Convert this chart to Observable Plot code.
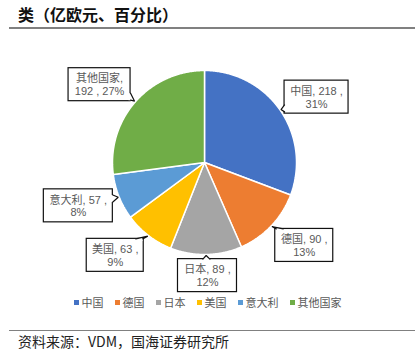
<!DOCTYPE html>
<html><head><meta charset="utf-8">
<script src="https://cdn.jsdelivr.net/npm/d3@7"></script>
<script src="https://cdn.jsdelivr.net/npm/@observablehq/plot@0.6"></script>
<style>
html,body{margin:0;padding:0;background:#fff}
body{width:415px;height:352px;position:relative;overflow:hidden;font-family:"Liberation Sans","Noto Sans CJK SC",sans-serif}
#title{position:absolute;left:9px;right:0;top:0;height:29px;box-sizing:border-box;border-bottom:2px solid #808080;padding-left:9px;padding-top:4px;font-family:"Noto Sans CJK SC",sans-serif;font-weight:700;font-size:16px;line-height:20px;color:#111}
#chart{position:absolute;left:0;top:29px}
#legend{position:absolute;left:0;width:415px;top:294px}
#footer{position:absolute;left:9px;right:0;top:330px;height:22px;box-sizing:border-box;border-top:1.5px solid #808080;padding-left:9px;font-family:"Noto Sans CJK SC",sans-serif;font-size:14px;line-height:20px;color:#222}
.lg-swatches{font-family:"Noto Sans CJK SC",sans-serif!important;font-size:11px!important;color:#595959!important;justify-content:center!important;min-height:14px!important;height:14px;margin:0!important}
.lg-swatch{margin-right:11px!important}
.lg-swatch:last-child{margin-right:0!important}
.lg-swatch > svg{margin-right:3px!important}
</style></head>
<body>
<div id="title">类（亿欧元、百分比）</div>
<div id="chart"></div>
<div id="legend"></div>
<div id="footer">资料来源：VDM，国海证券研究所</div>
<script>
// ---- data ----
const countries = ["中国", "德国", "日本", "美国", "意大利", "其他国家"];
const values = [218, 90, 89, 63, 57, 192];
const percents = [31, 13, 12, 9, 8, 27];
const colors = ["#4472C4", "#ED7D31", "#A5A5A5", "#FFC000", "#5B9BD5", "#70AD47"];

// ---- layout ----
const W = 415, H = 265;
const R = 92, CX = 204, CY = 133;
const labelDist = [1.41, 1.41, 1.23, 1.40, 1.45, 1.42];
const labelTurn = [4.4, -3.8, -0.5, 6.3, 3, -4.7];
const boxW = [64, 58, 59, 57, 69, 62];
const boxH = 33;

const total = d3.sum(values);
const rad = d => d * Math.PI / 180;
const toU = (px, py) => ({x: (px - CX) / R, y: (CY - py) / R});

// slices
const slicePts = [];
const mids = [];
let acc = 0;
values.forEach((v, i) => {
  const a0 = acc / total * 360, a1 = (acc + v) / total * 360;
  acc += v;
  mids.push((a0 + a1) / 2);
  slicePts.push({name: countries[i], x: 0, y: 0});
  const n = Math.max(2, Math.ceil((a1 - a0) / 0.5));
  for (let k = 0; k <= n; k++) {
    const a = rad(a0 + (a1 - a0) * k / n);
    slicePts.push({name: countries[i], x: Math.sin(a), y: Math.cos(a)});
  }
});

// callouts
const boxes = [], tailFill = [], tailLine = [], labels = [];
countries.forEach((name, i) => {
  const am = rad(mids[i]);
  const ac = rad(mids[i] + labelTurn[i]);
  const cx = CX + labelDist[i] * R * Math.sin(ac);
  const cy = CY - labelDist[i] * R * Math.cos(ac);
  const tx = CX + (R + 1) * Math.sin(am);
  const ty = CY - (R + 1) * Math.cos(am);
  const hw = boxW[i] / 2, hh = boxH / 2;
  const b1 = toU(cx - hw, cy - hh), b2 = toU(cx + hw, cy + hh);
  boxes.push({x1: b1.x, x2: b2.x, y1: b1.y, y2: b2.y});
  const dx = tx - cx, dy = ty - cy;
  const tV = Math.abs(dx) > 0 ? hw / Math.abs(dx) : Infinity;
  const tH = Math.abs(dy) > 0 ? hh / Math.abs(dy) : Infinity;
  let B1, B2, I1, I2;
  const bw = 3.5;
  if (tV < tH) {
    const ex = cx + Math.sign(dx) * hw;
    let py = cy + tV * dy;
    py = Math.max(cy - hh + 1 + bw, Math.min(cy + hh - 1 - bw, py));
    const inx = ex - Math.sign(dx) * 2;
    B1 = [ex, py - bw]; B2 = [ex, py + bw]; I1 = [inx, py - bw]; I2 = [inx, py + bw];
  } else {
    const ey = cy + Math.sign(dy) * hh;
    let px = cx + tH * dx;
    px = Math.max(cx - hw + 1 + bw, Math.min(cx + hw - 1 - bw, px));
    const iny = ey - Math.sign(dy) * 2;
    B1 = [px - bw, ey]; B2 = [px + bw, ey]; I1 = [px - bw, iny]; I2 = [px + bw, iny];
  }
  [I1, B1, [tx, ty], B2, I2].forEach(p => tailFill.push({k: i, ...toU(p[0], p[1])}));
  [B1, [tx, ty], B2].forEach(p => tailLine.push({k: i, ...toU(p[0], p[1])}));
  const text = name.length >= 4
    ? `${name},\n${values[i]} , ${percents[i]}%`
    : `${name}, ${values[i]} ,\n${percents[i]}%`;
  labels.push({...toU(cx, cy), text});
});

const plot = Plot.plot({
  width: W, height: H, margin: 0,
  style: {background: "transparent", overflow: "visible"},
  x: {domain: [-1, 1], range: [CX - R, CX + R], axis: null},
  y: {domain: [-1, 1], range: [CY + R, CY - R], axis: null},
  color: {domain: countries, range: colors},
  marks: [
    Plot.line(slicePts, {x: "x", y: "y", z: "name", fill: "name", stroke: "white", strokeWidth: 1.5, strokeLinejoin: "miter", curve: "linear-closed"}),
    Plot.rect(boxes, {x1: "x1", x2: "x2", y1: "y1", y2: "y2", fill: "white", stroke: "#111", strokeWidth: 1.2}),
    Plot.line(tailFill, {x: "x", y: "y", z: "k", fill: "white", stroke: "none", curve: "linear-closed"}),
    Plot.line(tailLine, {x: "x", y: "y", z: "k", stroke: "#111", strokeWidth: 1.2, strokeLinejoin: "miter"}),
    Plot.text(labels, {x: "x", y: "y", text: "text", fill: "#595959", fontSize: 11, lineHeight: 1.18, fontFamily: "Liberation Sans, Noto Sans CJK SC, sans-serif"})
  ]
});
document.getElementById("chart").appendChild(plot);

const lg = Plot.legend({color: {domain: countries, range: colors}, legend: "swatches", swatchSize: 5, className: "lg"});
document.getElementById("legend").appendChild(lg);
</script>
</body></html>
